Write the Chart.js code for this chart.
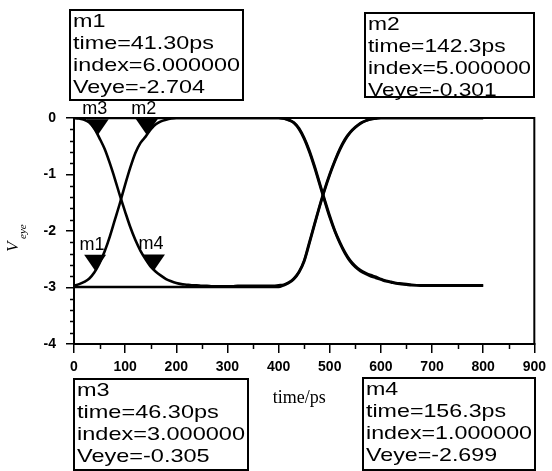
<!DOCTYPE html>
<html><head><meta charset="utf-8">
<script src="https://cdn.jsdelivr.net/npm/chart.js@4.4.1/dist/chart.umd.min.js"></script>
<style>html,body{margin:0;padding:0;background:#fff;}canvas{display:block;}</style>
</head><body>
<canvas id="c" width="552" height="471"></canvas>
<script>
// ---- data (time in ps, Veye in V) ----
const times = [0,10,20,30,40,50,60,70,80,90,100,110,120,130,140,150,160,170,180,190,
  200,210,220,230,240,250,260,270,280,290,300,310,320,330,340,350,360,370,380,390,
  400,410,420,430,440,450,460,470,480,490,500,510,520,530,540,550,560,570,580,590,
  600,610,620,630,640,650,660,670,680,690,700,710,720,730,740,750,760,770,780,790,800];

// falls first, rises second
const traceA = [0,-0.01,-0.03,-0.08,-0.19,-0.36,-0.55,-0.80,-1.08,-1.38,-1.66,-1.93,-2.16,-2.35,-2.50,-2.63,-2.72,-2.79,-2.85,-2.89,
  -2.92,-2.94,-2.95,-2.96,-2.96,-2.97,-2.97,-2.98,-2.98,-2.98,-2.98,-2.98,-2.97,-2.97,-2.97,-2.97,-2.97,-2.97,-2.97,-2.97,
  -2.96,-2.95,-2.91,-2.84,-2.72,-2.52,-2.20,-1.88,-1.56,-1.26,-0.99,-0.75,-0.54,-0.37,-0.25,-0.16,-0.09,-0.05,-0.02,-0.01,
  0,0,0,0,0,0,0,0,0,0,0,0,0,0,0,0,0,0,0,0,0];

// rises first, falls second
const traceB = [-2.97,-2.94,-2.90,-2.84,-2.73,-2.57,-2.36,-2.10,-1.80,-1.50,-1.18,-0.88,-0.62,-0.44,-0.33,-0.20,-0.11,-0.06,-0.03,-0.01,
  0,0,0,0,0,0,0,0,0,0,0,0,0,0,0,0,0,0,0,0,
  0,-0.01,-0.03,-0.08,-0.18,-0.35,-0.57,-0.84,-1.14,-1.44,-1.73,-1.99,-2.20,-2.38,-2.52,-2.62,-2.69,-2.74,-2.78,-2.81,
  -2.85,-2.88,-2.90,-2.92,-2.93,-2.94,-2.95,-2.96,-2.97,-2.97,-2.97,-2.97,-2.97,-2.97,-2.97,-2.97,-2.97,-2.97,-2.97,-2.97,-2.97];

// stays low, rises second
const traceC = [-2.99,-2.99,-2.99,-2.99,-2.99,-2.99,-2.99,-2.99,-2.99,-2.99,-2.99,-2.99,-2.99,-2.99,-2.99,-2.99,-2.99,-2.99,-2.99,-2.99,
  -2.99,-2.99,-2.99,-2.99,-2.99,-2.99,-2.99,-2.99,-2.99,-2.99,-2.99,-2.99,-2.99,-2.99,-2.99,-2.99,-2.99,-2.99,-2.99,-2.99,
  -2.99,-2.96,-2.92,-2.85,-2.73,-2.54,-2.23,-1.90,-1.58,-1.28,-1.01,-0.77,-0.56,-0.39,-0.26,-0.17,-0.10,-0.05,-0.02,-0.01,
  0,0,0,0,0,0,0,0,0,0,0,0,0,0,0,0,0,0,0,0,0];

// stays high, falls second
const traceD = [0,0,0,0,0,0,0,0,0,0,0,0,0,0,0,0,0,0,0,0,
  0,0,0,0,0,0,0,0,0,0,0,0,0,0,0,0,0,0,0,0,
  0,-0.01,-0.04,-0.09,-0.20,-0.37,-0.60,-0.87,-1.17,-1.47,-1.76,-2.01,-2.22,-2.40,-2.54,-2.64,-2.71,-2.76,-2.80,-2.83,
  -2.86,-2.89,-2.91,-2.93,-2.94,-2.95,-2.96,-2.96,-2.96,-2.96,-2.96,-2.96,-2.96,-2.96,-2.96,-2.96,-2.96,-2.96,-2.96,-2.96,-2.96];

const markerNames  = ['m1','m2','m3','m4'];
const markerTimes  = [41.3, 142.3, 46.3, 156.3];
const markerValues = [-2.704, -0.301, -0.305, -2.699];
const markerIndex  = [6, 5, 3, 1];

const xTickValues = [0,100,200,300,400,500,600,700,800,900];
const yTickValues = [0,-1,-2,-3,-4];
const xTitle = 'time/ps';
const yTitleMain = 'V';
const yTitleSub = 'eye';

// ---- layout of the marker read-out boxes (pixels) ----
const boxLayout = {
  m1: {x:70,  y:10,  w:173, h:90},
  m2: {x:365, y:13,  w:169, h:84},
  m3: {x:74,  y:379, w:174, h:91},
  m4: {x:363, y:378, w:172, h:92}
};

const traces = [traceA, traceB, traceC, traceD];

const overlay = {
  id: 'overlay',
  beforeDraw(chart) {
    const ctx = chart.ctx;
    ctx.save(); ctx.fillStyle = '#fff'; ctx.fillRect(0, 0, chart.width, chart.height); ctx.restore();
  },
  afterDraw(chart) {
    const {ctx, chartArea: a, scales: {x, y}} = chart;
    ctx.save();
    ctx.strokeStyle = '#000'; ctx.fillStyle = '#000';
    // frame
    ctx.lineWidth = 2;
    ctx.strokeRect(a.left, a.top, a.right - a.left, a.bottom - a.top);
    // minor ticks
    ctx.lineWidth = 1.5;
    ctx.beginPath();
    for (let k = 1; k < 20; k++) {
      if (k % 5 === 0) continue;
      const py = Math.round(y.getPixelForValue(-k * 0.2)) + 0.5;
      ctx.moveTo(a.left - 4, py); ctx.lineTo(a.left, py);
    }
    for (let k = 0; k < 9; k++) {
      const px = Math.round(x.getPixelForValue(50 + k * 100)) + 0.5;
      ctx.moveTo(px, a.bottom); ctx.lineTo(px, a.bottom + 5);
    }
    ctx.stroke();

    // markers: inverted triangles with apex on the data point
    ctx.font = '18px "Liberation Sans", Arial, sans-serif';
    ctx.textAlign = 'center'; ctx.textBaseline = 'alphabetic';
    for (let i = 0; i < markerNames.length; i++) {
      const px = x.getPixelForValue(markerTimes[i]);
      const py = y.getPixelForValue(markerValues[i]);
      ctx.beginPath();
      ctx.moveTo(px - 11, py - 16); ctx.lineTo(px + 11, py - 16); ctx.lineTo(px, py);
      ctx.closePath(); ctx.fill();
      ctx.fillText(markerNames[i], px - 3, py - 21);
    }

    // read-out boxes
    ctx.textAlign = 'left';
    const offs = [17, 39, 61, 83];
    for (let i = 0; i < markerNames.length; i++) {
      const b = boxLayout[markerNames[i]];
      const lines = [
        markerNames[i],
        'time=' + markerTimes[i].toPrecision(4) + 'ps',
        'index=' + markerIndex[i].toFixed(6),
        'Veye=' + markerValues[i].toFixed(3)
      ];
      ctx.fillStyle = '#fff';
      ctx.fillRect(b.x, b.y, b.w, b.h);
      ctx.lineWidth = 2; ctx.strokeStyle = '#000';
      ctx.strokeRect(b.x, b.y, b.w, b.h);
      ctx.fillStyle = '#000';
      ctx.font = '19px "Liberation Sans", Arial, sans-serif';
      let maxW = 0;
      lines.forEach(l => { maxW = Math.max(maxW, ctx.measureText(l).width); });
      const sx = (b.w - 6) / maxW;
      lines.forEach((l, j) => {
        ctx.save();
        ctx.translate(b.x + 3, b.y + offs[j]);
        ctx.scale(sx, 1);
        ctx.fillText(l, 0, 0);
        ctx.restore();
      });
    }

    // axis titles
    ctx.fillStyle = '#000';
    ctx.textAlign = 'center';
    ctx.font = '18px "Liberation Serif", "Times New Roman", serif';
    ctx.fillText(xTitle, (a.left + a.right) / 2 - 5, 403);

    ctx.save();
    ctx.translate(18, 252);
    ctx.rotate(-Math.PI / 2);
    ctx.textAlign = 'left';
    ctx.font = 'italic 17px "Liberation Serif", "Times New Roman", serif';
    ctx.fillText(yTitleMain, 0, 0);
    ctx.font = 'italic 11px "Liberation Serif", "Times New Roman", serif';
    ctx.fillText(yTitleSub, 13, 8);
    ctx.restore();

    ctx.restore();
  }
};

new Chart(document.getElementById('c'), {
  type: 'line',
  data: {
    datasets: traces.map((tr, k) => ({
      label: 'index ' + (k + 1),
      data: times.map((t, i) => ({x: t, y: tr[i]})),
      borderColor: '#000',
      borderWidth: 2.6,
      pointRadius: 0,
      fill: false,
      cubicInterpolationMode: 'monotone'
    }))
  },
  options: {
    responsive: false,
    animation: false,
    events: [],
    layout: {padding: {left: 24, right: 11, top: 118, bottom: 87}},
    plugins: {legend: {display: false}, tooltip: {enabled: false}, title: {display: false}},
    scales: {
      x: {
        type: 'linear', min: 0, max: 900,
        afterBuildTicks: s => { s.ticks = xTickValues.map(v => ({value: v})); },
        afterFit: s => { s.height = 40; },
        grid: {drawOnChartArea: false, drawTicks: true, tickLength: 9, color: '#000', lineWidth: 1.5},
        border: {display: true, color: '#000', width: 2},
        ticks: {color: '#000', autoSkip: false, maxRotation: 0, padding: 6,
          font: {family: '"Liberation Sans", Arial, sans-serif', size: 14, weight: 'bold'},
          callback: v => String(v)}
      },
      y: {
        type: 'linear', min: -4, max: 0,
        afterBuildTicks: s => { s.ticks = yTickValues.map(v => ({value: v})); },
        afterFit: s => { s.width = 50; },
        grid: {drawOnChartArea: false, drawTicks: true, tickLength: 8, color: '#000', lineWidth: 1.5},
        border: {display: true, color: '#000', width: 2},
        ticks: {color: '#000', autoSkip: false, padding: 10,
          font: {family: '"Liberation Sans", Arial, sans-serif', size: 14, weight: 'bold'},
          callback: v => String(v)}
      }
    }
  },
  plugins: [overlay]
});
</script>
</body></html>
